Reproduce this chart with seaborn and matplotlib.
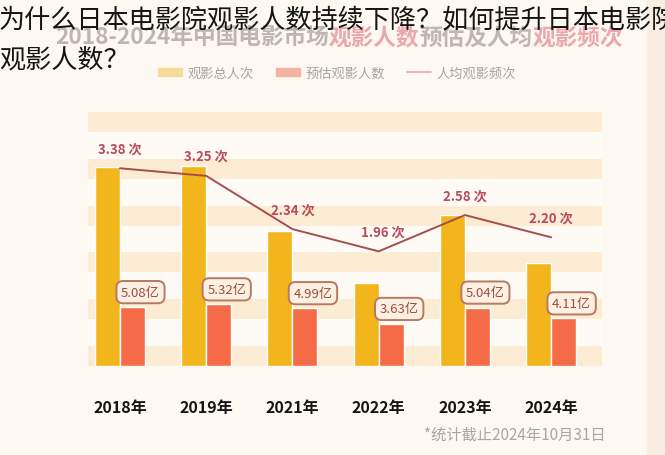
import matplotlib
matplotlib.use("Agg")
import matplotlib.pyplot as plt
import seaborn as sns
import pandas as pd
import numpy as np
from matplotlib.patches import Rectangle, Patch
from matplotlib.lines import Line2D

years = ["2018年", "2019年", "2021年", "2022年", "2023年", "2024年"]
total_admissions = [17.16, 17.27, 11.67, 7.12, 12.99, 8.88]   # 观影总人次 (亿)
audience = [5.08, 5.32, 4.99, 3.63, 5.04, 4.11]              # 预估观影人数 (亿)
frequency = [3.38, 3.25, 2.34, 1.96, 2.58, 2.20]              # 人均观影频次
freq_labels = ["3.38 次", "3.25 次", "2.34 次", "1.96 次", "2.58 次", "2.20 次"]
aud_labels = ["5.08亿", "5.32亿", "4.99亿", "3.63亿", "5.04亿", "4.11亿"]
series_names = ["观影总人次", "预估观影人数", "人均观影频次"]

yellow = "#f2b51c"
red = "#f56a47"
line_c = "#a64e4f"

sns.set_theme(style="white")
plt.rcParams["font.family"] = ["Noto Sans CJK SC", "DejaVu Sans"]

df = pd.DataFrame({
    "year": years * 2,
    "value": total_admissions + audience,
    "series": [series_names[0]] * 6 + [series_names[1]] * 6,
})

W, H = 665, 456
fig = plt.figure(figsize=(W / 100, H / 100), dpi=100, facecolor="#fdf8f1")
fig.patches.append(Rectangle((647 / W, 0), 18 / W, 1, transform=fig.transFigure,
                             color="#f9eee1", zorder=0))

ax = fig.add_axes([88 / W, 89 / H, (602 - 88) / W, 255 / H])
ax.set_facecolor("#fefbf6")
for k in range(6):
    ax.add_patch(Rectangle((0, k * 0.1835), 1, 0.0784, transform=ax.transAxes,
                           color="#fcecd4", lw=0, zorder=0))

sns.barplot(data=df, x="year", y="value", hue="series", palette=[yellow, red],
            width=0.58, gap=0, saturation=1, legend=False, ax=ax, zorder=2)
ax.set_xlim(-0.371, 5.59)
ax.set_ylim(0, 22)
ax.set_xlabel("")
ax.set_ylabel("")
ax.set_yticks([])
ax.tick_params(axis="x", length=0, pad=24)
for lab in ax.get_xticklabels():
    lab.set_fontsize(11.5)
    lab.set_fontweight("bold")
    lab.set_color("#141414")
for s in ax.spines.values():
    s.set_visible(False)

for i, (v, t) in enumerate(zip(audience, aud_labels)):
    ax.annotate(t, xy=(i + 0.145, v), xytext=(8, 15), textcoords="offset pixels",
                ha="center", va="center", fontsize=9.5, color="#9b4f3c", zorder=5,
                bbox=dict(boxstyle="round,pad=0.35,rounding_size=0.5", fc="#fdf0e3",
                          ec="#b57a62", lw=1.4))

ax2 = ax.twinx()
xs = np.arange(len(years))
sns.lineplot(x=xs, y=frequency, ax=ax2, color=line_c, linewidth=1.4)
ax2.set_ylim(0, 255 / 58.5)
ax2.set_xlim(-0.371, 5.59)
ax2.set_yticks([])
for s in ax2.spines.values():
    s.set_visible(False)
for i, (v, t) in enumerate(zip(frequency, freq_labels)):
    dx = 4 if i == 3 else 0
    ax2.annotate(t, xy=(i, v), xytext=(dx, 20), textcoords="offset pixels",
                 ha="center", va="center", fontsize=9.5, fontweight="bold",
                 color="#ba4a5c")

# faded legend
handles = [Patch(color="#f6dc9a"), Patch(color="#f3b3a2"),
           Line2D([0], [0], color="#e6a3a3", lw=1.2)]
fig.legend(handles, series_names, loc="center", bbox_to_anchor=(337 / W, 1 - 74 / H),
           ncol=3, frameon=False, fontsize=9.5, labelcolor="#aaa29e",
           handlelength=1.8, handleheight=0.5, handletextpad=0.4, columnspacing=1.7)

# faded original title, in gray and pink pieces
renderer = fig.canvas.get_renderer()
parts = [("2018-2024年中国电影市场", "#bfb6af"), ("观影人数", "#eba8aa"),
         ("预估及人均", "#bfb6af"), ("观影频次", "#eba8aa")]
xpx = 55
for txt, col in parts:
    t = fig.text(xpx / W, 1 - 38 / H, txt, fontsize=16.3, fontweight="bold", color=col,
                 ha="left", va="center")
    xpx = t.get_window_extent(renderer).x1

fig.text(606 / W, 1 - 435 / H, "*统计截止2024年10月31日", ha="right", va="center",
         fontsize=11, color="#a8a6a4")

# overlaid page title
fig.text(-0.002, 1 - 20 / H, "为什么日本电影院观影人数持续下降？如何提升日本电影院",
         ha="left", va="center", fontsize=18.8, color="#151515")
fig.text(-0.002, 1 - 60 / H, "观影人数？", ha="left", va="center", fontsize=18.8,
         color="#151515")

fig.savefig("out.png", dpi=100, facecolor=fig.get_facecolor())
